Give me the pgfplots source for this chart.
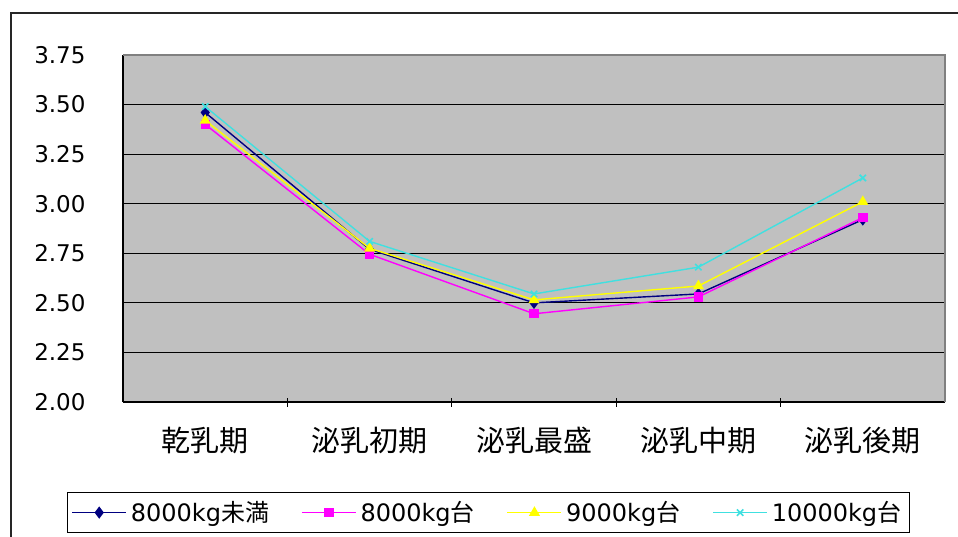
\documentclass[border=0pt]{standalone}
\usepackage{fontspec}
\setmainfont{DejaVu Sans}
\newfontfamily\cjk{Noto Sans CJK JP}
\usepackage{pgfplots}
\pgfplotsset{compat=1.18}
\definecolor{plotgray}{HTML}{C0C0C0}
\definecolor{sNavy}{HTML}{000080}
\definecolor{sMag}{HTML}{FF00FF}
\definecolor{sYel}{HTML}{FFFF00}
\definecolor{sCyan}{HTML}{40E0E0}
\begin{document}
\begin{tikzpicture}[x=1pt,y=1pt]
\path[use as bounding box] (0pt,0pt) rectangle (958pt,536pt);
\draw[line width=1.3pt, black!85] (11pt,-10pt) -- (11pt,523pt) -- (970pt,523pt);
\begin{axis}[
  at={(123pt,134pt)}, anchor=south west,
  scale only axis, width=822pt, height=347pt,
  xmin=0.5, xmax=5.5, ymin=2, ymax=3.75,
  axis background/.style={fill=plotgray},
  axis lines=left, axis line style={-, line width=1.1pt, black},
  xtick={1,2,3,4,5},
  xticklabels={乾乳期,泌乳初期,泌乳最盛,泌乳中期,泌乳後期},
  xticklabel style={font=\cjk\fontsize{29}{33}\selectfont, yshift=-22pt},
  minor xtick={1.5,2.5,3.5,4.5},
  minor tick length=9pt,
  minor x tick style={black, line width=1pt},
  major tick length=0pt,
  ytick={2,2.25,...,3.8},
  yticklabel style={font=\fontsize{23}{27}\selectfont, xshift=-34pt},
  /pgf/number format/assume math mode=true,
  yticklabel={\pgfmathprintnumber[fixed,fixed zerofill,precision=2]{\tick}},
  ymajorgrids, grid style={black, line width=1pt},
  clip=false,
  legend columns=4,
  legend style={at={(rel axis cs:-0.0681,-0.3775)}, anchor=south west,
    draw=black, line width=1pt, fill=white,
    font=\fontsize{24}{28}\selectfont,
    inner xsep=4pt, inner ysep=7pt,
    /tikz/every even column/.style={column sep=28pt},
    nodes={inner xsep=4pt}},
  legend image code/.code={\draw[mark repeat=2,mark phase=2,#1] plot coordinates {(0pt,0pt) (27pt,0pt) (54pt,0pt)};},
]
\addplot[sNavy, line width=1.4pt, mark=diamond*, mark size=5pt] coordinates {(1,3.46) (2,2.77) (3,2.50) (4,2.545) (5,2.92)};
\addlegendentry{8000kg{\cjk 未満}}
\addplot[sMag, line width=1.4pt, mark=square*, mark size=4pt] coordinates {(1,3.40) (2,2.745) (3,2.445) (4,2.53) (5,2.93)};
\addlegendentry{8000kg{\cjk 台}}
\addplot[sYel, line width=1.4pt, mark=triangle*, mark size=5pt] coordinates {(1,3.42) (2,2.775) (3,2.515) (4,2.585) (5,3.01)};
\addlegendentry{9000kg{\cjk 台}}
\addplot[sCyan, line width=1.4pt, mark=x, mark size=4.5pt, mark options={line width=1.6pt}] coordinates {(1,3.49) (2,2.81) (3,2.545) (4,2.68) (5,3.13)};
\addlegendentry{10000kg{\cjk 台}}
\draw[gray, line width=1.2pt] (rel axis cs:0,1) -- (rel axis cs:1,1) -- (rel axis cs:1,0);
\end{axis}
\end{tikzpicture}
\end{document}
